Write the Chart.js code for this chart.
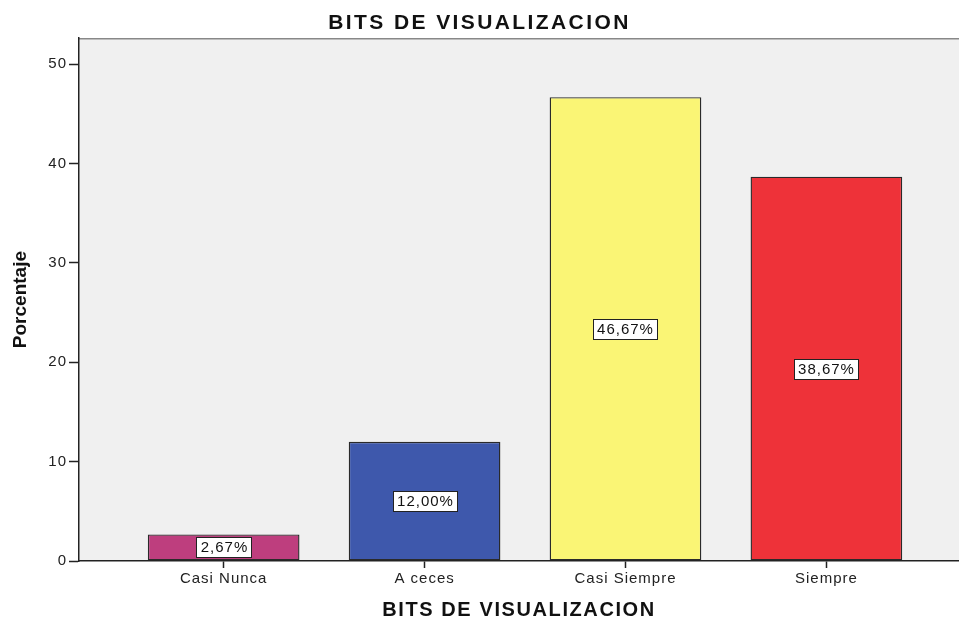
<!DOCTYPE html>
<html>
<head>
<meta charset="utf-8">
<script src="https://cdn.jsdelivr.net/npm/chart.js@4.4.1/dist/chart.umd.min.js"></script>
<style>
  html, body { margin: 0; padding: 0; background: #ffffff; overflow: hidden; }
  #wrap { width: 959px; height: 618px; }
</style>
</head>
<body>
<div id="wrap"><canvas id="c" width="959" height="618"></canvas></div>
<script>
// ---- data ----
const chartTitle = 'BITS DE VISUALIZACION';
const xAxisTitle = 'BITS DE VISUALIZACION';
const yAxisTitle = 'Porcentaje';
const categories = ['Casi Nunca', 'A ceces', 'Casi Siempre', 'Siempre'];
const percentages = [2.67, 12.00, 46.67, 38.67];
const barColors = ['#BE3E7E', '#3E58AC', '#FAF575', '#EE3239'];
const yTicks = [0, 10, 20, 30, 40, 50];

const FONT = '"Liberation Sans", Arial, sans-serif';

// per-font letter spacing to mimic the wide SPSS text rendering
function spacingFor(font) {
  const m = /(\d+(?:\.\d+)?)px/.exec(font);
  const size = m ? parseFloat(m[1]) : 0;
  const bold = /bold|700/.test(font);
  if (bold && size === 21) return 2.4;
  if (bold && size === 20) return 1.6;
  if (!bold && size === 15) return 1;
  return 0;
}
const canvas = document.getElementById('c');
const ctx0 = canvas.getContext('2d');
const origFill = ctx0.fillText;
const origMeasure = ctx0.measureText;
ctx0.fillText = function () { this.letterSpacing = spacingFor(this.font) + 'px'; return origFill.apply(this, arguments); };
ctx0.measureText = function () { this.letterSpacing = spacingFor(this.font) + 'px'; return origMeasure.apply(this, arguments); };

const plotBg = {
  id: 'plotBg',
  beforeDraw(chart) {
    const { ctx, chartArea: a } = chart;
    ctx.save();
    ctx.fillStyle = '#F0F0F0';
    ctx.fillRect(a.left, a.top, a.right - a.left, a.bottom - a.top);
    ctx.strokeStyle = '#888888';
    ctx.lineWidth = 1.5;
    ctx.beginPath();
    ctx.moveTo(a.left, a.top + 0.5);
    ctx.lineTo(a.right, a.top + 0.5);
    ctx.stroke();
    ctx.restore();
  }
};

const barLabels = {
  id: 'barLabels',
  afterDatasetsDraw(chart) {
    const { ctx } = chart;
    const meta = chart.getDatasetMeta(0);
    ctx.save();
    ctx.font = '15px ' + FONT;
    ctx.textAlign = 'center';
    ctx.textBaseline = 'middle';
    meta.data.forEach((bar, i) => {
      const txt = percentages[i].toFixed(2).replace('.', ',') + '%';
      const cy = Math.round((bar.y + bar.base) / 2);
      const cx = Math.round(bar.x);
      const tw = ctx.measureText(txt).width;
      const w = Math.round(tw + 8), h = 21;
      const x0 = Math.round(cx - w / 2), y0 = Math.round(cy - h / 2);
      ctx.fillStyle = '#ffffff';
      ctx.fillRect(x0, y0, w, h);
      ctx.strokeStyle = '#222222';
      ctx.lineWidth = 1;
      ctx.strokeRect(x0 + 0.5, y0 + 0.5, w - 1, h - 1);
      ctx.fillStyle = '#111111';
      ctx.fillText(txt, cx + 0.5, cy + 1);
    });
    ctx.restore();
  }
};

new Chart(canvas, {
  type: 'bar',
  data: {
    datasets: [{
      data: categories.map((c, i) => ({ x: i, y: percentages[i] })),
      backgroundColor: barColors,
      borderColor: '#2a2a2a',
      borderWidth: 1.4,
      borderSkipped: false,
      barPercentage: 0.755,
      categoryPercentage: 1.0
    }]
  },
  options: {
    responsive: false,
    animation: false,
    devicePixelRatio: 1,
    layout: { padding: { left: 0, right: 0, top: 0, bottom: 0 } },
    plugins: {
      legend: { display: false },
      tooltip: { enabled: false },
      title: {
        display: true,
        text: chartTitle,
        color: '#111111',
        font: { family: FONT, size: 21, weight: 'bold' },
        padding: { top: 11, bottom: 2 }
      }
    },
    scales: {
      x: {
        type: 'linear',
        offset: false,
        min: -0.72,
        max: 3.66,
        afterBuildTicks: (s) => { s.ticks = categories.map((c, i) => ({ value: i })); },
        afterFit: (s) => { s.height = 57; },
        ticks: {
          callback: (v) => categories[v] !== undefined ? categories[v] : '',
          font: { family: FONT, size: 15 },
          color: '#222222',
          padding: 2,
          maxRotation: 0,
          autoSkip: false
        },
        grid: { offset: false, drawOnChartArea: false, drawTicks: true, tickLength: 7, tickColor: '#222222', tickWidth: 1.5 },
        border: { display: true, color: '#222222', width: 1.5 },
        title: {
          display: true,
          text: xAxisTitle,
          color: '#111111',
          font: { family: FONT, size: 20, weight: 'bold', lineHeight: 1 },
          padding: { top: 0, bottom: -2 }
        }
      },
      y: {
        min: 0,
        max: 52.6,
        afterBuildTicks: (s) => { s.ticks = yTicks.map(v => ({ value: v })); },
        afterFit: (s) => { s.width = 79; },
        ticks: {
          font: { family: FONT, size: 15 },
          color: '#222222',
          padding: 2
        },
        grid: { drawOnChartArea: false, drawTicks: true, tickLength: 10, tickColor: '#222222', tickWidth: 1.5 },
        border: { display: true, color: '#222222', width: 1.5 },
        title: {
          display: true,
          text: yAxisTitle,
          color: '#111111',
          font: { family: FONT, size: 19, weight: 'bold' },
          padding: { top: 9, bottom: 0 }
        }
      }
    }
  },
  plugins: [plotBg, barLabels]
});
</script>
</body>
</html>
